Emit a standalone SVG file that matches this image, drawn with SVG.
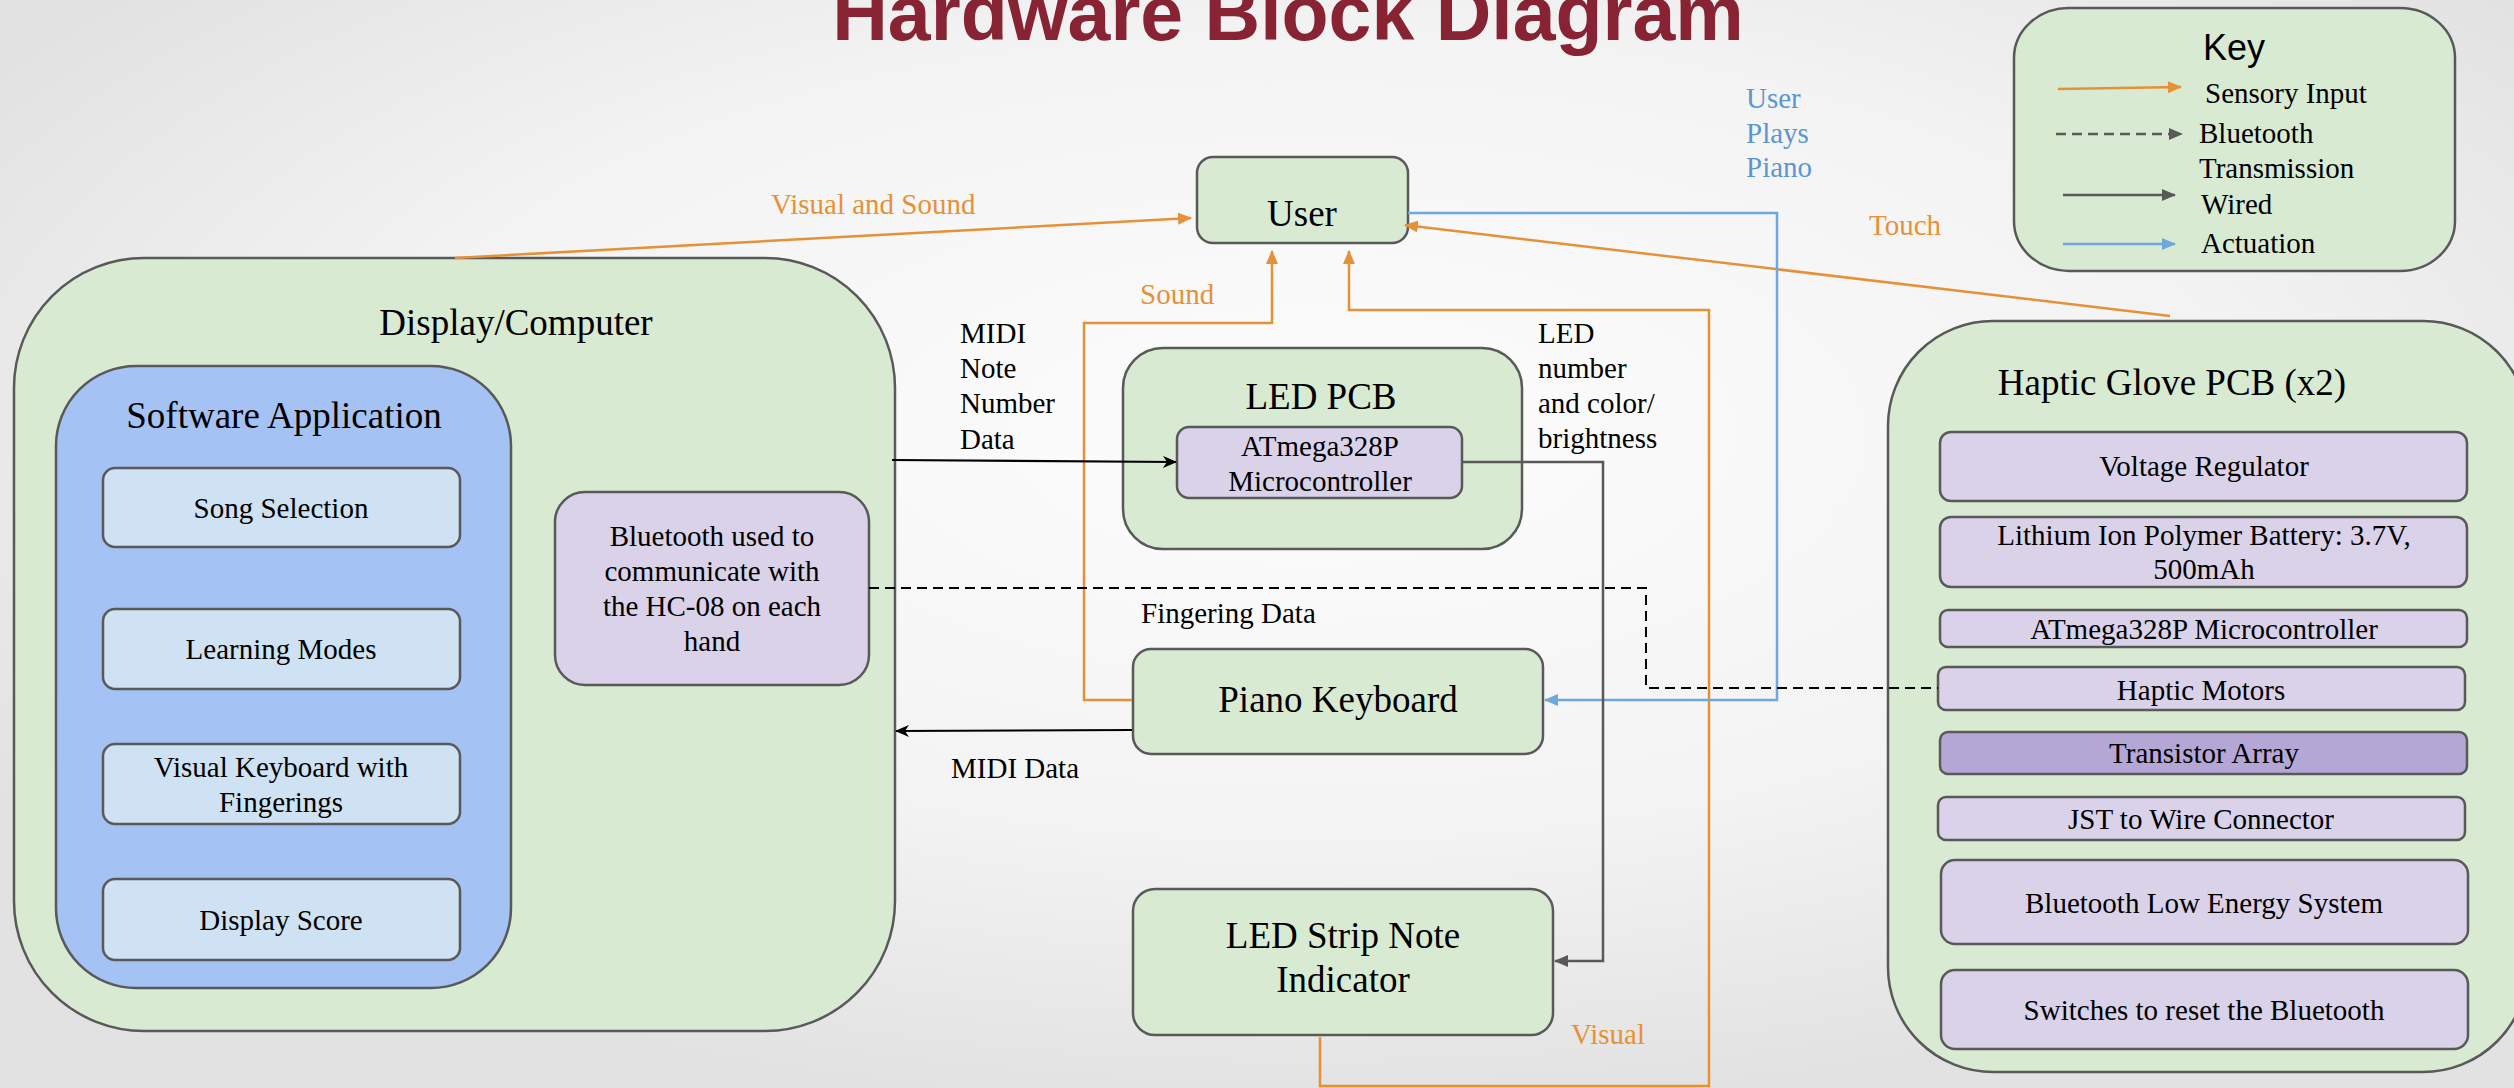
<svg xmlns="http://www.w3.org/2000/svg" width="2514" height="1088" viewBox="0 0 2514 1088">
<defs>
<radialGradient id="bg" cx="0.52" cy="0.4" r="0.62">
<stop offset="0" stop-color="#fdfdfd"/>
<stop offset="0.6" stop-color="#f3f3f3"/>
<stop offset="1" stop-color="#e2e2e2"/>
</radialGradient>
<marker id="aO" markerWidth="14" markerHeight="12" refX="13" refY="6" orient="auto" markerUnits="userSpaceOnUse"><path d="M0,0 L14,6 L0,12 Z" fill="#e69138"/></marker>
<marker id="aB" markerWidth="14" markerHeight="12" refX="13" refY="6" orient="auto" markerUnits="userSpaceOnUse"><path d="M0,0 L14,6 L0,12 Z" fill="#6fa8dc"/></marker>
<marker id="aG" markerWidth="14" markerHeight="12" refX="13" refY="6" orient="auto" markerUnits="userSpaceOnUse"><path d="M0,0 L14,6 L0,12 Z" fill="#595959"/></marker>
<marker id="aK" markerWidth="14" markerHeight="12" refX="13" refY="6" orient="auto" markerUnits="userSpaceOnUse"><path d="M0,0 L14,6 L0,12 L4,6 Z" fill="#000"/></marker>
</defs>
<style>
.box{stroke:#595959;stroke-width:2.5}
.green{fill:#d9ead3}
.blue{fill:#a4c2f4}
.lblue{fill:#cfe2f3}
.purple{fill:#d9d2e9}
.dpurple{fill:#b4a7d6}
.t{font-family:"Liberation Serif","Times New Roman",serif;fill:#000}
.c{text-anchor:middle}
.s29{font-size:29px}
.s37{font-size:37px}
.or{fill:#e69138}
.bl{fill:#5b95d6}
.lo{fill:none;stroke:#e69138;stroke-width:2.5}
.lb{fill:none;stroke:#6fa8dc;stroke-width:2.5}
.lg{fill:none;stroke:#595959;stroke-width:2.5}
.lk{fill:none;stroke:#000;stroke-width:2.2}
.ld{fill:none;stroke:#000;stroke-width:2;stroke-dasharray:10 6}
</style>
<rect width="2514" height="1088" fill="url(#bg)"/>
<text x="1288" y="40" text-anchor="middle" font-family="Liberation Sans, Arial, sans-serif" font-weight="bold" font-size="77" fill="#882333">Hardware Block Diagram</text>

<g id="display">
<rect class="box green" x="14" y="258" width="881" height="773" rx="130" ry="130"/>
<text class="t c s37" x="516" y="335">Display/Computer</text>
</g>
<g id="software">
<rect class="box blue" x="56" y="366" width="455" height="622" rx="80" ry="80"/>
<text class="t c s37" x="284" y="428">Software Application</text>
</g>
<g id="song">
<rect class="box lblue" x="103" y="468" width="357" height="79" rx="12"/>
<text class="t c s29" x="281" y="518">Song Selection</text>
</g>
<g id="learning">
<rect class="box lblue" x="103" y="609" width="357" height="80" rx="12"/>
<text class="t c s29" x="281" y="659">Learning Modes</text>
</g>
<g id="visualkb">
<rect class="box lblue" x="103" y="744" width="357" height="80" rx="12"/>
<text class="t c s29" x="281" y="777">Visual Keyboard with</text>
<text class="t c s29" x="281" y="812">Fingerings</text>
</g>
<g id="score">
<rect class="box lblue" x="103" y="879" width="357" height="81" rx="12"/>
<text class="t c s29" x="281" y="930">Display Score</text>
</g>
<g id="bluetooth">
<rect class="box purple" x="555" y="492" width="314" height="193" rx="30"/>
<text class="t c s29" x="712" y="546">Bluetooth used to</text>
<text class="t c s29" x="712" y="581">communicate with</text>
<text class="t c s29" x="712" y="616">the HC-08 on each</text>
<text class="t c s29" x="712" y="651">hand</text>
</g>

<g id="user">
<rect class="box green" x="1197" y="157" width="211" height="86" rx="16"/>
<text class="t c s37" x="1302" y="226">User</text>
</g>
<g id="ledpcb">
<rect class="box green" x="1123" y="348" width="399" height="201" rx="40"/>
<text class="t c s37" x="1321" y="409">LED PCB</text>
</g>
<g id="atmega-led">
<rect class="box purple" x="1177" y="427" width="285" height="71" rx="12"/>
<text class="t c s29" x="1320" y="456">ATmega328P</text>
<text class="t c s29" x="1320" y="491">Microcontroller</text>
</g>
<g id="piano">
<rect class="box green" x="1133" y="649" width="410" height="105" rx="18"/>
<text class="t c s37" x="1338" y="712">Piano Keyboard</text>
</g>
<g id="ledstrip">
<rect class="box green" x="1133" y="889" width="420" height="146" rx="22"/>
<text class="t c s37" x="1343" y="948">LED Strip Note</text>
<text class="t c s37" x="1343" y="992">Indicator</text>
</g>

<g id="haptic">
<rect class="box green" x="1888" y="321" width="640" height="751" rx="105" ry="105"/>
<text class="t c s37" x="2172" y="395">Haptic Glove PCB (x2)</text>
</g>
<g id="voltage">
<rect class="box purple" x="1940" y="432" width="527" height="69" rx="11"/>
<text class="t c s29" x="2204" y="476">Voltage Regulator</text>
</g>
<g id="battery">
<rect class="box purple" x="1940" y="517" width="527" height="70" rx="11"/>
<text class="t c s29" x="2204" y="545">Lithium Ion Polymer Battery: 3.7V,</text>
<text class="t c s29" x="2204" y="579">500mAh</text>
</g>
<g id="atmega-glove">
<rect class="box purple" x="1940" y="610" width="527" height="37" rx="8"/>
<text class="t c s29" x="2204" y="639">ATmega328P Microcontroller</text>
</g>
<g id="motors">
<rect class="box purple" x="1938" y="667" width="527" height="43" rx="8"/>
<text class="t c s29" x="2201" y="700">Haptic Motors</text>
</g>
<g id="transistor">
<rect class="box dpurple" x="1940" y="732" width="527" height="42" rx="8"/>
<text class="t c s29" x="2204" y="763">Transistor Array</text>
</g>
<g id="jst">
<rect class="box purple" x="1938" y="797" width="527" height="43" rx="8"/>
<text class="t c s29" x="2201" y="829">JST to Wire Connector</text>
</g>
<g id="ble">
<rect class="box purple" x="1941" y="860" width="527" height="84" rx="14"/>
<text class="t c s29" x="2204" y="913">Bluetooth Low Energy System</text>
</g>
<g id="switches">
<rect class="box purple" x="1941" y="970" width="527" height="79" rx="14"/>
<text class="t c s29" x="2204" y="1020">Switches to reset the Bluetooth</text>
</g>

<g id="key">
<rect class="box green" x="2014" y="8" width="441" height="263" rx="55" ry="50"/>
<text x="2234" y="60" text-anchor="middle" font-family="Liberation Sans, Arial, sans-serif" font-size="36" fill="#000">Key</text>
<line class="lo" x1="2058" y1="89" x2="2181" y2="87" marker-end="url(#aO)"/>
<text class="t s29" x="2205" y="103">Sensory Input</text>
<line x1="2056" y1="134" x2="2182" y2="134" stroke="#595959" stroke-width="2.5" stroke-dasharray="10 6" marker-end="url(#aG)"/>
<text class="t s29" x="2199" y="143">Bluetooth</text>
<text class="t s29" x="2199" y="178">Transmission</text>
<line class="lg" x1="2063" y1="195" x2="2175" y2="195" marker-end="url(#aG)"/>
<text class="t s29" x="2201" y="214">Wired</text>
<line class="lb" x1="2063" y1="244" x2="2175" y2="244" marker-end="url(#aB)"/>
<text class="t s29" x="2201" y="253">Actuation</text>
</g>

<g id="connectors">
<path class="lo" d="M455,258 L1191,218" marker-end="url(#aO)"/>
<path class="lo" d="M2170,316 L1405,225" marker-end="url(#aO)"/>
<path class="lo" d="M1132,700 H1084 V323 H1272 V251" marker-end="url(#aO)"/>
<path class="lo" d="M1320,1037 V1086 H1709 V310 H1349 V251" marker-end="url(#aO)"/>
<path class="lb" d="M1408,213 H1777 V700 H1545" marker-end="url(#aB)"/>
<path class="lk" d="M892,460 L1176,462" marker-end="url(#aK)"/>
<path class="lk" d="M1132,730 L896,731" marker-end="url(#aK)"/>
<path class="lg" d="M1462,462 H1603 V961 H1555" marker-end="url(#aG)"/>
<path class="ld" d="M869,588 H1646 V688 H1938"/>
</g>

<g id="labels">
<text class="t s29 or" x="771" y="214">Visual and Sound</text>
<text class="t s29 or" x="1140" y="304">Sound</text>
<text class="t s29 or" x="1869" y="235">Touch</text>
<text class="t s29 or" x="1571" y="1044">Visual</text>
<text class="t s29 bl" x="1746" y="108">User</text>
<text class="t s29 bl" x="1746" y="143">Plays</text>
<text class="t s29 bl" x="1746" y="177">Piano</text>
<text class="t s29" x="960" y="343">MIDI</text>
<text class="t s29" x="960" y="378">Note</text>
<text class="t s29" x="960" y="413">Number</text>
<text class="t s29" x="960" y="449">Data</text>
<text class="t s29" x="1538" y="343">LED</text>
<text class="t s29" x="1538" y="378">number</text>
<text class="t s29" x="1538" y="413">and color/</text>
<text class="t s29" x="1538" y="448">brightness</text>
<text class="t s29" x="1141" y="623">Fingering Data</text>
<text class="t s29" x="951" y="778">MIDI Data</text>
</g>
</svg>
